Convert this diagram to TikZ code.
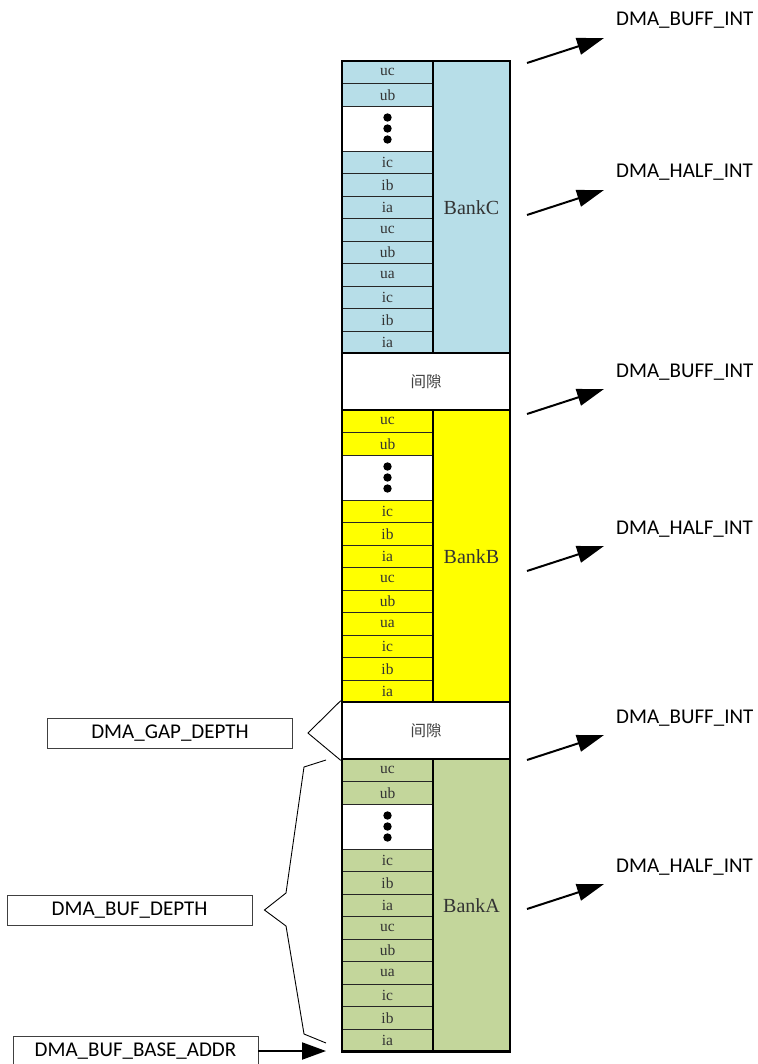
\documentclass[tikz,border=0pt]{standalone}
\usepackage{fontspec}
\setmainfont{Liberation Serif}
\newfontfamily\lblfont{Carlito}
\newfontfamily\cjkfont{Noto Sans CJK SC}
\usetikzlibrary{arrows.meta,positioning}

\definecolor{bankC}{RGB}{183,222,232}
\definecolor{bankB}{RGB}{255,255,0}
\definecolor{bankA}{RGB}{195,214,155}

\begin{document}
\begin{tikzpicture}[
  x=1pt, y=-1pt,
  memcell/.style = {draw=black!85, line width=0.9pt, minimum width=91pt, minimum height=22.5pt,
    inner sep=0pt, font=\fontsize{15.5}{15.5}\selectfont, text=black!80},
  memdots/.style = {memcell, fill=white, minimum height=45pt},
  membank/.style = {draw, line width=2.6pt, minimum width=77pt, minimum height=292.5pt,
    inner sep=0pt, font=\fontsize{20}{20}\selectfont, text=black!80},
  memgap/.style = {draw, line width=2.6pt, fill=white, minimum width=168pt, minimum height=57pt,
    inner sep=0pt, font=\cjkfont\fontsize{15.5}{15.5}\selectfont, text=black!75},
  memframe/.style = {line width=2.6pt},
  intlbl/.style = {font=\lblfont\fontsize{21}{21}\selectfont, inner sep=0pt},
  intarrow/.style = {-{Triangle[length=27pt,width=17pt]}, line width=2pt},
  parlbl/.style = {draw=black!75, line width=0.9pt, minimum width=245pt, minimum height=30pt,
    inner sep=0pt, font=\lblfont\fontsize{21}{21}\selectfont},
  basearrow/.style = {-{Triangle[length=24pt,width=17pt]}, line width=2pt},
  brace/.style = {line width=0.9pt}
]
  \useasboundingbox (0,0) rectangle (757,1064);
  % three banks
  \foreach \bk/\ytop in {C/61, B/410, A/759} {
    % first rows
    \foreach \lbl [count=\i from 0] in {uc,ub}
      \node[memcell, fill=bank\bk] (\bk-up\i) at (387.5,{\ytop+11.25+22.5*\i}) {\lbl};
    % ellipsis
    \node[memdots] (\bk-dots) at (387.5,{\ytop+67.5}) {};
    \foreach \dy in {-11,0,11}
      \fill (387.5,{\ytop+67.5+\dy}) circle (4.2pt);
    % last rows
    \foreach \lbl [count=\i from 0] in {ic,ib,ia,uc,ub,ua,ic,ib,ia}
      \node[memcell, fill=bank\bk] (\bk-low\i) at (387.5,{\ytop+101.25+22.5*\i}) {\lbl};
    \node[membank, fill=bank\bk] (bank\bk) at (471.5,{\ytop+146.25}) {Bank\bk};
    \draw[memframe] (342,\ytop) rectangle (510,{\ytop+292.5});
  }
  % gaps
  \node[memgap] (gapCB) at (426,381.5) {间隙};
  \node[memgap] (gapBA) at (426,730.5) {间隙};
  % interrupts
  \foreach \ty/\sig [count=\k] in {63/BUFF, 215/HALF, 414/BUFF, 571/HALF, 760/BUFF, 909/HALF} {
    \coordinate (tail\k) at (527,\ty);
    \coordinate (tip\k) at (604,{\ty-25});
    \node[intlbl, above right=12pt and 12pt of tip\k, anchor=base west] (int\k) {DMA\_\sig\_INT};
    \draw[intarrow] (tail\k) -- (tip\k);
  }
  % parameters
  \node[parlbl] (gapdepth) at (170,733) {DMA\_GAP\_DEPTH};
  \node[parlbl] (bufdepth) at (129.5,910) {DMA\_BUF\_DEPTH};
  \node[parlbl] (baseaddr) at (135.5,1051) {DMA\_BUF\_BASE\_ADDR};
  \coordinate[right=15pt of gapdepth] (gapTip);
  \draw[brace] (gapBA.north west) -- (gapTip) -- (gapBA.south west);
  \coordinate[right=12pt of bufdepth] (bufTip);
  \draw[brace] (326,760) -- (304,767) -- (286,893) -- (bufTip) -- (286,926)
    -- (304,1034) -- (326,1043);
  \coordinate (baseTip) at (326,1051);
  \draw[basearrow] (baseaddr) -- (baseTip);
\end{tikzpicture}
\end{document}
